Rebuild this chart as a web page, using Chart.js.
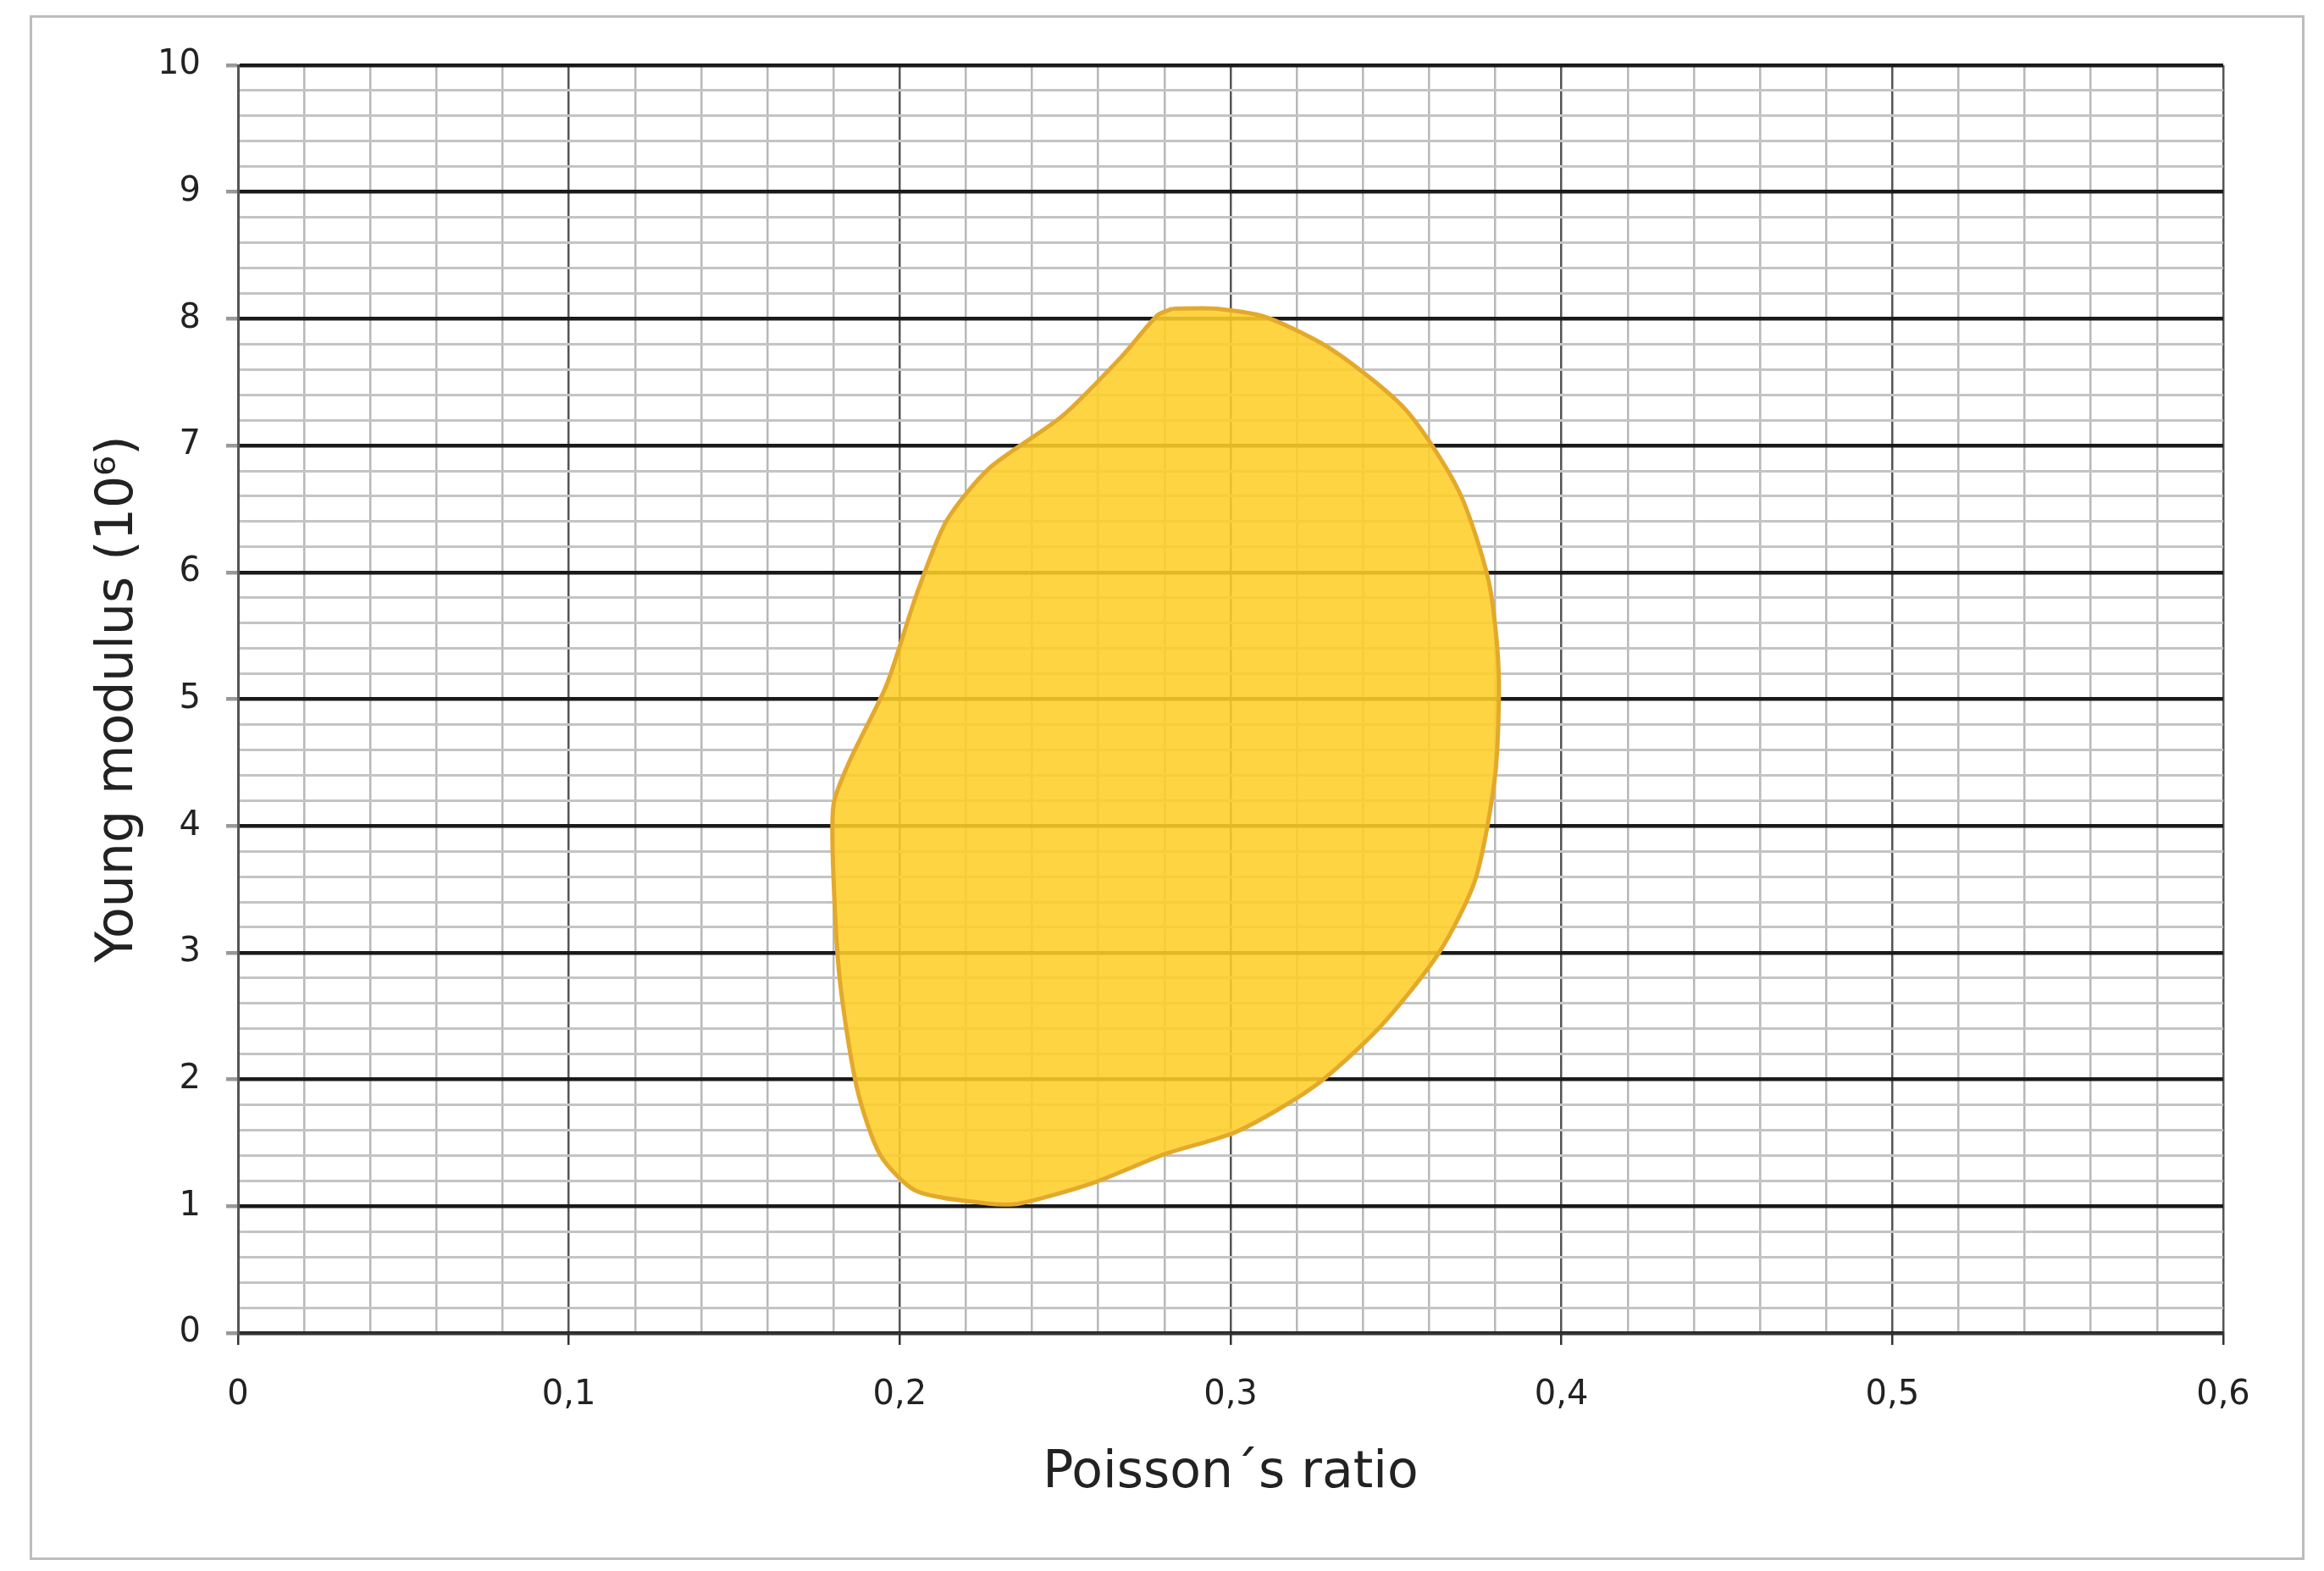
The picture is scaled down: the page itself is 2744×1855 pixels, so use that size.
<!DOCTYPE html>
<html><head><meta charset="utf-8">
<script src="https://cdn.jsdelivr.net/npm/chart.js@4"></script>
<style>
html,body{margin:0;padding:0;background:#fff;}
#wrap{position:absolute;left:0;top:0;width:2744px;height:1855px;}
#frame{position:absolute;left:35px;top:18px;width:2680px;height:1818px;border:3px solid #bdbdbd;pointer-events:none;}
</style></head>
<body>
<div id="wrap"><canvas id="c" width="2744" height="1855"></canvas></div>
<div id="frame"></div>
<script>
const poissonRatio = [0.2825,0.2958,0.311,0.331,0.353,0.369,0.378,0.381,0.380,0.374,0.363,0.345,0.325,0.302,0.280,0.258,0.236,0.227,0.205,0.194,0.187,0.182,0.180,0.180,0.185,0.196,0.205,0.214,0.227,0.249,0.267,0.278,0.2825];
const youngModulus = [8.08,8.08,8.01,7.75,7.28,6.64,5.93,5.23,4.41,3.58,3.00,2.41,1.94,1.59,1.41,1.18,1.02,1.02,1.12,1.41,1.94,2.76,3.58,4.17,4.52,5.11,5.82,6.40,6.82,7.23,7.70,8.03,8.08];
const xTickLabels = ['0','0,1','0,2','0,3','0,4','0,5','0,6'];
const yTickLabels = ['0','1','2','3','4','5','6','7','8','9','10'];

const pts = poissonRatio.map((x,i)=>({x:x,y:youngModulus[i]}));
const isMajor = (v,step)=>Math.abs(v/step-Math.round(v/step))<1e-6;
Chart.defaults.font.family = "'DejaVu Sans', Verdana, sans-serif";
Chart.defaults.color = '#222';

new Chart(document.getElementById('c'),{
  type:'scatter',
  data:{datasets:[{
    data:pts, showLine:true, fill:'shape', tension:0.25,
    backgroundColor:'rgba(255,206,40,0.88)', borderColor:'#E3A92C', borderWidth:5,
    pointRadius:0
  }]},
  options:{
    responsive:false, animation:false,
    layout:{padding:{top:77,right:119,left:100,bottom:75}},
    plugins:{legend:{display:false},tooltip:{enabled:false}},
    scales:{
      x:{type:'linear',min:0,max:0.6,
        afterBuildTicks:s=>{s.ticks=[];for(let i=0;i<=30;i++)s.ticks.push({value:+(i*0.02).toFixed(2)});},
        afterFit:s=>{s.height=206;},
        ticks:{autoSkip:false,maxRotation:0,padding:36,font:{size:40},
          callback:v=>isMajor(v,0.1)?xTickLabels[Math.round(v/0.1)]:''},
        grid:{color:c=>isMajor(c.tick.value,0.1)?'#555':'#b8b8b8',lineWidth:2.5,
          tickColor:c=>isMajor(c.tick.value,0.1)?'#333':'rgba(0,0,0,0)',tickLength:14},
        border:{color:'#333',width:3},
        title:{display:true,text:'Poisson´s ratio',font:{size:60},padding:{top:20}}
      },
      y:{type:'linear',min:0,max:10,
        afterBuildTicks:s=>{s.ticks=[];for(let i=0;i<=50;i++)s.ticks.push({value:+(i*0.2).toFixed(1)});},
        afterFit:s=>{s.width=181;},
        ticks:{autoSkip:false,padding:30,font:{size:40},
          callback:v=>isMajor(v,1)?yTickLabels[Math.round(v)]:''},
        grid:{color:c=>isMajor(c.tick.value,1)?'#1a1a1a':'#c4c4c4',lineWidth:c=>isMajor(c.tick.value,1)?4.5:3,
          tickColor:c=>isMajor(c.tick.value,1)?'#999':'rgba(0,0,0,0)',tickLength:14},
        border:{color:'#555',width:3},
        title:{display:true,text:'Young modulus (10⁶)',font:{size:60},padding:{bottom:0}}
      }
    }
  }
});
</script>
</body></html>
